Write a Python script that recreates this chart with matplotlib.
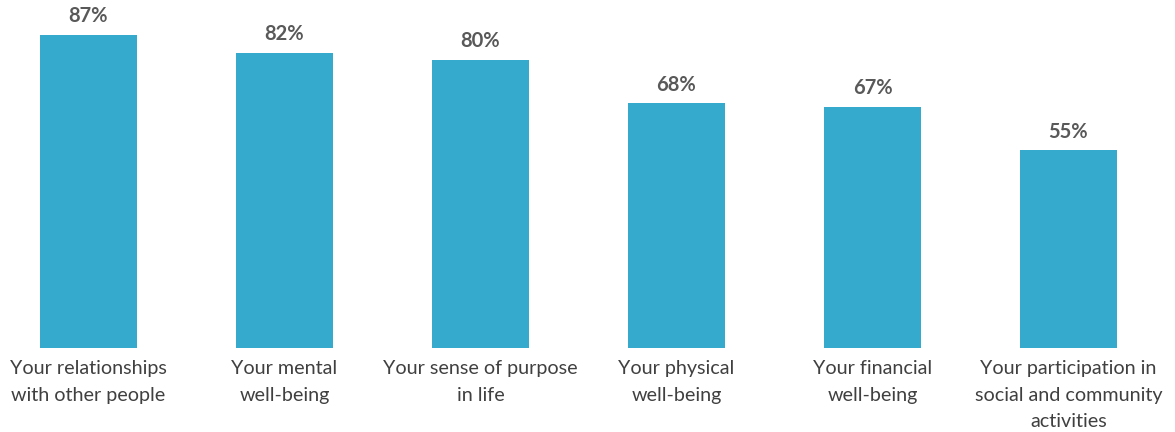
import matplotlib
matplotlib.use("Agg")
import matplotlib.pyplot as plt

# Share of respondents per well-being area
categories = [
    "Your relationships\nwith other people",
    "Your mental\nwell-being",
    "Your sense of purpose\nin life",
    "Your physical\nwell-being",
    "Your financial\nwell-being",
    "Your participation in\nsocial and community\nactivities",
]
values = [87, 82, 80, 68, 67, 55]

bar_color = "#35AACD"
value_color = "#595959"
label_color = "#404040"

plt.rcParams["font.family"] = ["Lato", "DejaVu Sans"]

fig = plt.figure(figsize=(11.75, 4.32), dpi=100)
ax = fig.add_axes([0, 84 / 432, 1, 348 / 432])

x = list(range(len(values)))
bars = ax.bar(x, values, width=0.495, color=bar_color)

ax.set_xlim(-88.5 / 196, (1175 - 88.5) / 196)
ax.set_ylim(0, 348 / 3.6)

for bar, v in zip(bars, values):
    ax.annotate(f"{v}%", (bar.get_x() + bar.get_width() / 2, v),
                xytext=(0, 9), textcoords="offset points",
                ha="center", va="baseline", fontsize=14.5, fontweight="bold",
                color=value_color)

for xi, label in zip(x, categories):
    ax.annotate(label, (xi, 0), xytext=(0, -8.5), textcoords="offset points",
                ha="center", va="top", fontsize=14.2, color=label_color,
                linespacing=1.7)

ax.axis("off")

fig.savefig("out.png", dpi=100)
